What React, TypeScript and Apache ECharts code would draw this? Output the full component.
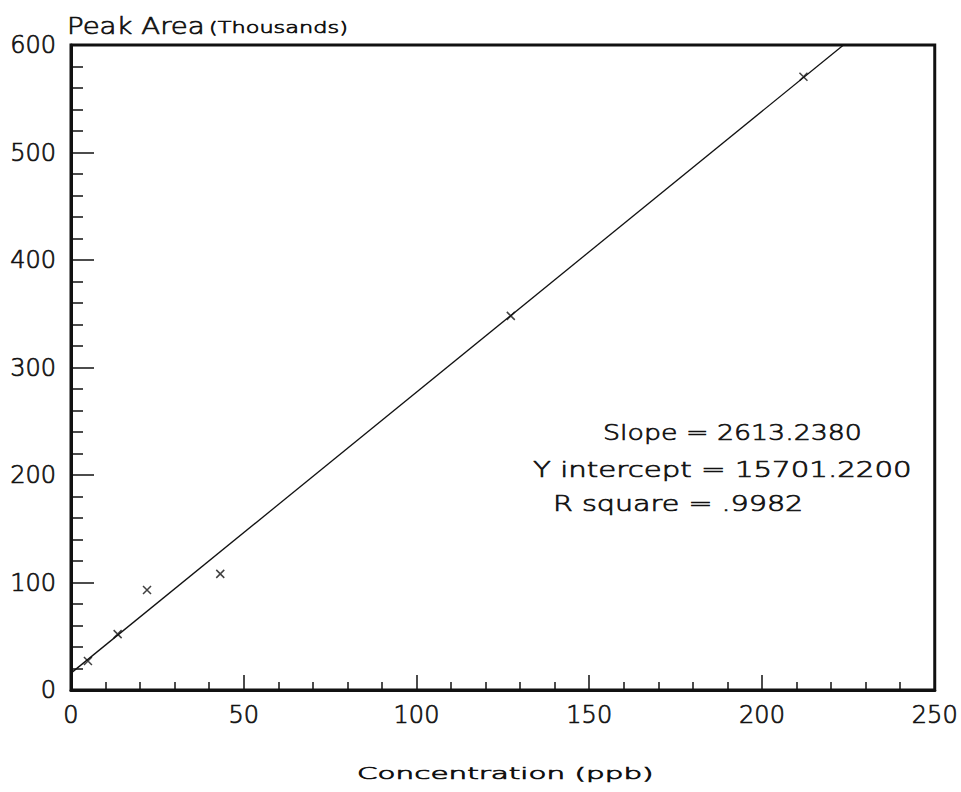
import React, { useEffect, useRef } from "react";
import * as echarts from "echarts";

// Calibration points (Concentration ppb, Peak Area thousands)
const concentration = [4.9, 13.5, 22, 43.2, 127.3, 212];
const peakArea = [27, 52, 93, 108, 348, 570.5];

// Linear fit reported on the chart
const slope = 2613.238; // area per ppb
const intercept = 15701.22; // area
const rSquare = ".9982";

const xTicks = { min: 0, max: 250, interval: 50 };
const yTicks = { min: 0, max: 600, interval: 100 };

const annotationLines = [
  "Slope = 2613.2380",
  "Y intercept = 15701.2200",
  "R square = " + rSquare,
];

const FONT = "DejaVu Sans";
const WEIGHT = 200;
const INK = "#111";
const THICK = 0.7;

export default function App() {
  const ref = useRef<HTMLDivElement>(null);

  useEffect(() => {
    document.body.style.margin = "0";
    if (!ref.current) return;
    const chart = echarts.init(ref.current, null, { renderer: "svg" });

    const fitX = [xTicks.min, xTicks.max];
    const fitData = fitX.map((x) => [x, (intercept + slope * x) / 1000]);

    const crossPath = "path://M0,0L10,10M10,0L0,10";

    const annX = [603, 533, 553];
    const annY = [432, 469, 503];
    const annScale = [1.22, 1.33, 1.3];

    const labelStyle = {
      color: INK,
      fontFamily: FONT,
      fontWeight: WEIGHT,
      fontSize: 24,
      textBorderColor: INK,
      textBorderWidth: THICK,
    };

    const txt = (text: string, x: number, y: number, size: number, scaleX: number) => ({
      type: "text",
      x,
      y,
      scaleX,
      style: {
        text,
        fontFamily: FONT,
        fontWeight: WEIGHT,
        fontSize: size,
        fill: INK,
        stroke: INK,
        lineWidth: THICK,
        align: "left",
        verticalAlign: "middle",
      },
    });

    chart.setOption({
      animation: false,
      backgroundColor: "#fff",
      grid: {
        left: 71,
        right: 24,
        top: 45,
        bottom: 102,
        show: true,
        borderColor: "#111",
        borderWidth: 3,
        backgroundColor: "transparent",
      },
      xAxis: {
        type: "value",
        min: xTicks.min,
        max: xTicks.max,
        interval: xTicks.interval,
        axisLine: { show: true, lineStyle: { color: "#111", width: 3 } },
        axisTick: { show: true, inside: true, length: 15, lineStyle: { color: "#111", width: 1.5 } },
        minorTick: { show: true, splitNumber: 5, length: 8, lineStyle: { color: "#111", width: 1.5 } },
        splitLine: { show: false },
        minorSplitLine: { show: false },
        axisLabel: { ...labelStyle, margin: 13, showMaxLabel: true, showMinLabel: true },
      },
      yAxis: {
        type: "value",
        min: yTicks.min,
        max: yTicks.max,
        interval: yTicks.interval,
        axisLine: { show: true, lineStyle: { color: "#111", width: 3 } },
        axisTick: { show: true, inside: true, length: 23, lineStyle: { color: "#111", width: 1.5 } },
        minorTick: { show: true, splitNumber: 5, length: 12, lineStyle: { color: "#111", width: 1.5 } },
        splitLine: { show: false },
        minorSplitLine: { show: false },
        axisLabel: { ...labelStyle, margin: 15 },
      },
      series: [
        {
          type: "line",
          data: fitData,
          showSymbol: false,
          clip: true,
          lineStyle: { color: "#111", width: 1.3 },
          silent: true,
        },
        {
          type: "scatter",
          data: concentration.map((c, i) => [c, peakArea[i]]),
          symbol: crossPath,
          symbolSize: 8,
          itemStyle: { color: "none", borderColor: "#111", borderWidth: 1.5 },
        },
      ],
      graphic: [
        txt("Peak Area", 67, 26, 23, 1.2),
        txt("(Thousands)", 209, 28, 16.5, 1.36),
        txt("Concentration (ppb)", 357, 774, 15.5, 1.9),
        ...annotationLines.map((t, i) => txt(t, annX[i], annY[i], 22, annScale[i])),
      ],
    });

    return () => chart.dispose();
  }, []);

  return <div ref={ref} style={{ width: 961, height: 792 }} />;
}
